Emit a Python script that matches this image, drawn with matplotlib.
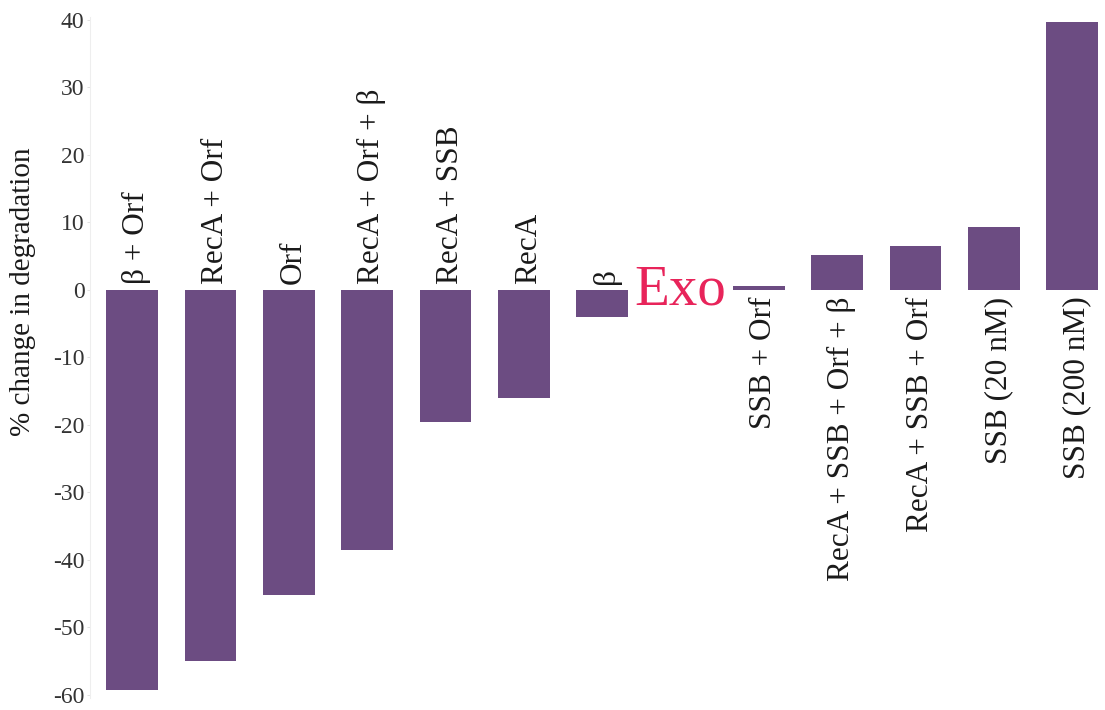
import matplotlib
matplotlib.use("Agg")
import matplotlib.pyplot as plt

categories = ["β + Orf", "RecA + Orf", "Orf", "RecA + Orf + β", "RecA + SSB", "RecA", "β",
              "Exo", "SSB + Orf", "RecA + SSB + Orf + β", "RecA + SSB + Orf",
              "SSB (20 nM)", "SSB (200 nM)"]
values = [-59.3, -55.0, -45.2, -38.5, -19.6, -16.0, -4.0,
          0.0, 0.5, 5.2, 6.5, 9.3, 39.7]
yticks = [-60, -50, -40, -30, -20, -10, 0, 10, 20, 30, 40]

plt.rcParams['font.family'] = ['Liberation Serif', 'DejaVu Serif']

fig = plt.figure(figsize=(11.05, 7.10), dpi=100)
W, H = 1105, 710
left_px, right_px, top_px, bot_px = 90, 1105, 16.6, 698
ax = fig.add_axes([left_px / W, (H - bot_px) / H, (right_px - left_px) / W, (bot_px - top_px) / H])

bar_color = "#6c4c82"
x = list(range(len(categories)))
ax.bar(x, values, width=0.66, color=bar_color, edgecolor='none')

for i, (c, v) in enumerate(zip(categories, values)):
    if c == "Exo":
        ax.text(i, -2.1, c, ha='center', va='baseline', fontsize=41, color="#e8245a")
    elif v < 0:
        ax.text(i + 0.06, 0.9, c, rotation=90, ha='center', va='bottom', fontsize=22.5, color='#1a1a1a')
    else:
        ax.text(i + 0.06, -1.0, c, rotation=90, ha='center', va='top', fontsize=22.5, color='#1a1a1a')

ax.set_xlim(-0.54, 12.42)
ax.set_ylim(-60.5, 40.5)
ax.set_yticks(yticks)
ax.set_yticklabels([str(t) for t in yticks], fontsize=17, color='#333333')
ax.set_xticks([])
ax.tick_params(axis='y', length=2, width=0.6, color='#dddddd', pad=2)
for s in ['top', 'right', 'bottom']:
    ax.spines[s].set_visible(False)
ax.spines['left'].set_color('#eeeeee')
ax.spines['left'].set_linewidth(0.8)

ax.set_ylabel("% change in degradation", fontsize=21, color='#1a1a1a')
ax.yaxis.set_label_coords(-0.053, 0.596)

fig.savefig("out.png", dpi=100)
